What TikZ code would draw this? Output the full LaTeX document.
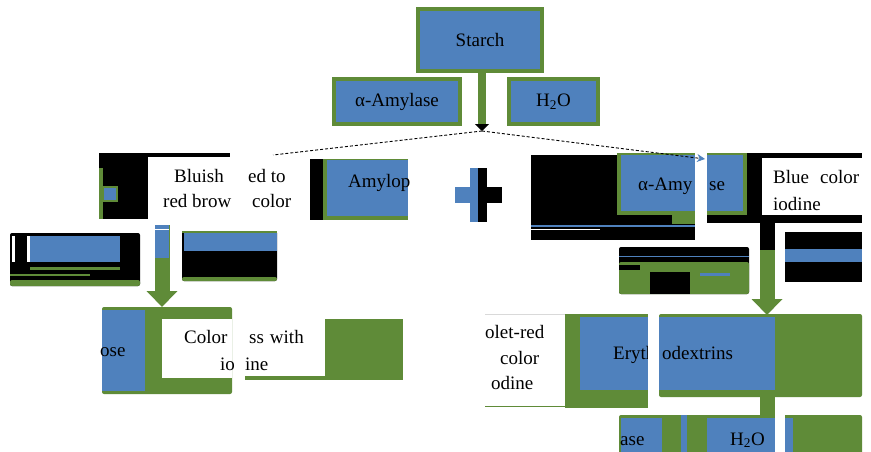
\documentclass[tikz,border=0pt]{standalone}
\usepackage{fontspec}
\setmainfont{Liberation Serif}
\usetikzlibrary{arrows.meta}
\definecolor{boxblue}{RGB}{79,129,189}
\definecolor{boxgreen}{RGB}{95,139,56}
\tikzset{
  bluebox/.style={draw=boxgreen, line width=3.5pt, fill=boxblue},
  txt/.style={anchor=base west, inner sep=0pt},
  stem/.style={draw=boxgreen, line width=15pt, -{Triangle[width=30pt,length=16pt]}},
  splitline/.style={densely dashed, line width=0.9pt},
}
\begin{document}
\begin{tikzpicture}[x=1pt,y=-1pt,font=\fontsize{19}{24}\selectfont]
        \useasboundingbox[fill=white] (0,0) rectangle (871,452);

        % starch, enzyme and water
        \draw[bluebox] (418,9) rectangle node (starch) {Starch} (542,71);
        \draw[bluebox] (334,79) rectangle node (amy) {α-Amylase} (460,124);
        \draw[bluebox] (509,79) rectangle node (water) {H\textsubscript{2}O} (598,124);
        \coordinate (stemtop) at (482,73);
        \coordinate (split) at (482,131);
        \coordinate (lefttip) at (273,155);
        \coordinate (righttip) at (705,159);
        \draw[boxgreen, line width=8pt, -{Triangle[color=black,width=14pt,length=7pt]}] (stemtop) -- (split);
        \draw[splitline] (split) -- (lefttip);

        % left upper group
        \fill[black] (99,153) rectangle (148,219);
        \fill[black] (148,153) rectangle (230,157);
        \fill[boxgreen] (99,168) rectangle (103,219);
        \draw[boxgreen, fill=boxblue, line width=1.2pt] (103,187) rectangle (117,201);
        \node[txt] (bluisha) at (174,182) {Bluish};
        \node[txt] (bluishb) at (248,182) {ed to};
        \node[txt] (redbra) at (163,207) {red brow};
        \node[txt] (redbrb) at (252,207) {color};

        \fill[black] (310,159) rectangle (323,220);
        \fill[boxgreen] (323,159) rectangle (408,220);
        \fill[boxblue] (327,160) rectangle (408,216);
        \node[txt] (amylop) at (348,187) {Amylop};

        % plus
        \fill[boxblue] (470,168) rectangle (478,222);
        \fill[boxblue] (455,187) rectangle (478,203);
        \fill[black] (478,168) rectangle (487,222);
        \fill[black] (478,187) rectangle (502,203);

        % right upper group
        \fill[black] (531,155) rectangle (695,240);
        \fill[boxblue] (531,225) rectangle (695,227);
        \fill[white] (531,229) rectangle (600,230);
        \fill[boxgreen] (672,215) rectangle (695,224);
        \fill[boxgreen] (617,153) rectangle (695,215);
        \fill[boxblue] (621,155) rectangle (695,211);
        \fill[black] (707,153) rectangle (862,223);
        \fill[boxgreen] (707,153) rectangle (747,215);
        \fill[boxblue] (707,155) rectangle (743,211);
        \fill[white] (762,158) rectangle (862,215);
        \node[txt] (alphaa) at (638,190) {α-Amy};
        \node[txt] (alphab) at (709,190) {se};
        \node[txt] (bluea) at (773,183) {Blue\hspace{11pt}color};
        \node[txt] (blueb) at (773,210) {iodine};
        \fill[white] (695,150) rectangle (707,245);

        % left second row
        \fill[black, rounded corners=2pt] (10,233) rectangle (140,286);
        \fill[boxblue] (30,236) rectangle (120,262);
        \fill[white] (12,236) rectangle (15,262);
        \fill[white] (27,236) rectangle (30,262);
        \fill[boxgreen] (30,267) rectangle (120,270);
        \fill[boxgreen] (10,274) rectangle (90,276);
        \fill[boxgreen, rounded corners=2pt] (10,280) rectangle (140,286);
        \fill[black, rounded corners=2pt] (182,231) rectangle (277,281);
        \fill[boxgreen] (182,231) rectangle (277,233);
        \fill[boxblue] (184,233) rectangle (277,251);
        \fill[boxgreen, rounded corners=2pt] (182,277) rectangle (277,281);
        \coordinate (lstemtop) at (162,225);
        \coordinate (lstemtip) at (162,307);
        \draw[stem] (lstemtop) -- (lstemtip);
        \fill[boxblue] (155,225) rectangle (169,258);
        \fill[white] (155,229) rectangle (169,230);

        % left lower row
        \fill[boxgreen, rounded corners=2pt] (102,307) rectangle (232,394);
        \fill[boxblue] (102,310) rectangle (145,391);
        \fill[white] (162,319) rectangle (232,378);
        \fill[boxgreen] (245,319) rectangle (403,380);
        \fill[white] (245,319) rectangle (325,376);
        \node[txt] (ose) at (100,356) {ose};
        \node[txt] (colora) at (184,343) {Color};
        \node[txt] (colorb) at (249,343) {ss\hspace{6pt}with};
        \node[txt] (iodinea) at (220,370) {io};
        \node[txt] (iodineb) at (245,370) {ine};

        % right second row
        \fill[black, rounded corners=2pt] (619,247) rectangle (749,294);
        \fill[boxblue] (619,256) rectangle (749,257);
        \fill[boxgreen, rounded corners=2pt] (619,262) rectangle (749,294);
        \fill[black] (650,272) rectangle (690,294);
        \fill[black] (619,265) rectangle (640,270);
        \fill[boxblue] (700,273) rectangle (730,276);
        \fill[black] (785,232) rectangle (862,282);
        \fill[boxblue] (785,249) rectangle (862,262);
        \coordinate (rstemtop) at (767,223);
        \coordinate (rstemtip) at (767,315);
        \draw[stem] (rstemtop) -- (rstemtip);
        \fill[black] (760,223) rectangle (775,250);

        % right lower row
        \fill[white] (485,314) rectangle (565,407);
        \draw[gray!30] (485,314) -- (565,314);
        \draw[boxgreen] (485,406) -- (565,406);
        \fill[boxgreen] (565,314) rectangle (648,408);
        \fill[boxblue] (580,317) rectangle (648,390);
        \fill[boxgreen, rounded corners=2pt] (659,314) rectangle (862,397);
        \fill[boxblue] (659,317) rectangle (775,390);
        \node[txt] (violeta) at (485,338) {olet-red};
        \node[txt] (violetb) at (500,364) {color};
        \node[txt] (violetc) at (491,389) {odine};
        \node[txt] (erytha) at (613,359) {Eryth};
        \node[txt] (erythb) at (662,359) {odextrins};
        \fill[white] (648,310) rectangle (659,410);
        \fill[boxgreen] (760,397) rectangle (775,415);

        % bottom row
        \fill[boxgreen, rounded corners=2pt] (619,415) rectangle (862,455);
        \fill[boxblue] (621,418) rectangle (662,455);
        \fill[boxblue] (681,415) rectangle (687,455);
        \fill[boxblue] (707,418) rectangle (793,455);
        \fill[white] (775,413) rectangle (785,455);
        \node[txt] (ase) at (620,445) {ase};
        \node[txt] (waterb) at (730,445) {H\textsubscript{2}O};

        \draw[splitline, -{Stealth[color=boxblue,length=8pt,width=8pt]}] (split) -- (righttip);
      \end{tikzpicture}
\end{document}
